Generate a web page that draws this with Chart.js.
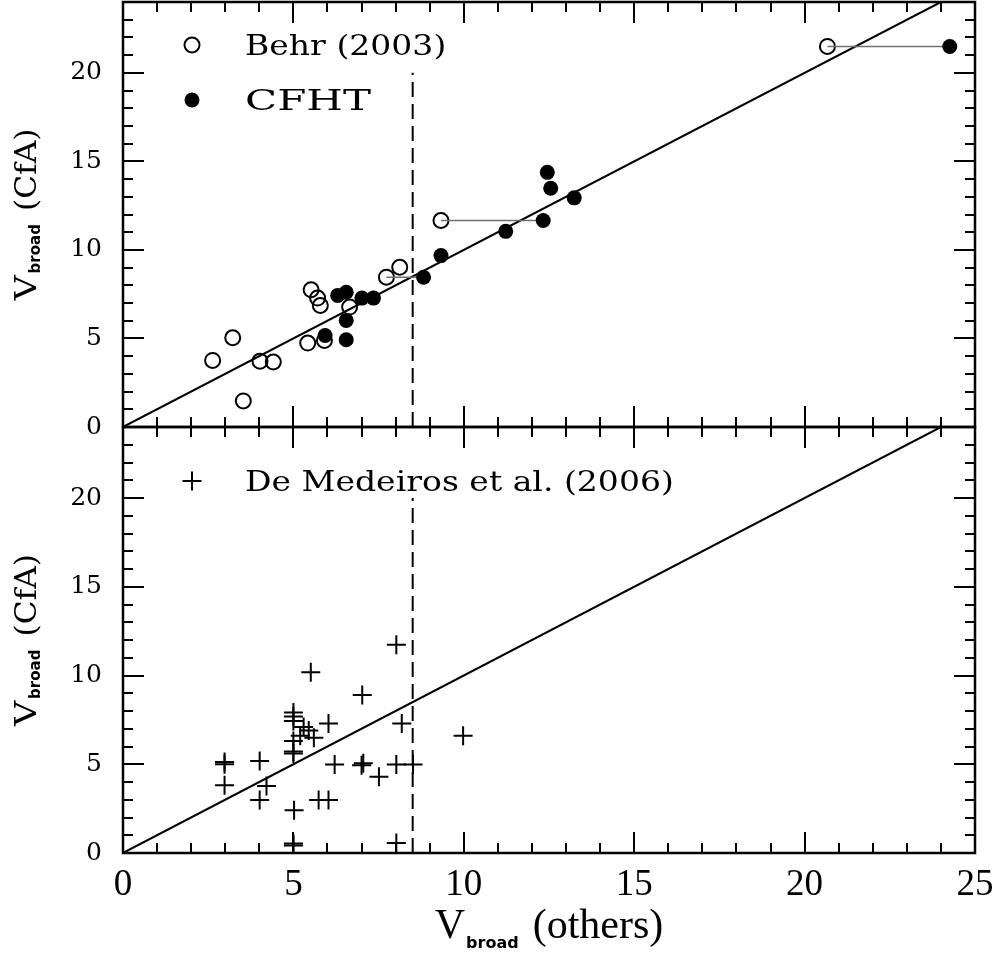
<!DOCTYPE html>
<html>
<head>
<meta charset="utf-8">
<title>Vbroad comparison</title>
<script src="https://cdn.jsdelivr.net/npm/chart.js@4.4.1/dist/chart.umd.min.js"></script>
<style>
  html, body { margin: 0; padding: 0; background: #fff; }
  #plots { position: relative; width: 1000px; height: 954px; }
  #plots canvas { position: absolute; left: 0; top: 0; }
</style>
</head>
<body>
<div id="plots">
  <canvas id="upperPanel" width="1000" height="954"></canvas>
  <canvas id="lowerPanel" width="1000" height="954"></canvas>
</div>
<script>
(function() {
  // axis ranges and labelled ticks
  const xRange = [0, 25];
  const yRange = [0, 24];
  const xTicks = [0, 5, 10, 15, 20, 25];
  const yTicks = [0, 5, 10, 15, 20];

  // upper panel: Behr (2003) and CFHT against CfA
  const behrX = [2.63, 3.22, 3.53, 4.02, 4.41, 5.42, 5.52, 5.71, 5.79, 5.91, 6.65, 7.73, 8.12, 9.33, 20.67];
  const behrY = [3.76, 5.04, 1.47, 3.72, 3.67, 4.74, 7.75, 7.28, 6.86, 4.89, 6.77, 8.46, 9.02, 11.66, 21.49];
  const cfhtX = [5.93, 6.30, 6.55, 6.55, 6.55, 7.01, 7.35, 8.82, 9.33, 11.23, 12.33, 12.45, 12.55, 13.24, 24.26];
  const cfhtY = [5.17, 7.43, 7.61, 6.02, 4.93, 7.28, 7.28, 8.46, 9.68, 11.05, 11.66, 14.38, 13.48, 12.94, 21.49];

  // stars measured by both: Behr value -> CFHT value
  const pairFromX = [7.73, 9.33, 20.67];
  const pairToX = [8.82, 12.33, 24.26];
  const pairY = [8.46, 11.66, 21.49];

  // lower panel: De Medeiros et al. (2006) against CfA
  const medX = [2.98, 2.98, 2.98, 4.01, 4.21, 4.01, 5.02, 5.00, 5.00, 5.00, 5.00, 5.00, 5.00, 5.00, 5.00,
                5.30, 5.45, 5.60, 5.20, 5.51, 6.03, 5.74, 6.03, 7.02, 7.00, 7.05, 7.51, 8.02, 8.18,
                8.02, 8.51, 8.02, 9.98, 6.21];
  const medY = [5.00, 5.12, 3.81, 5.18, 3.77, 2.98, 2.41, 0.42, 0.54, 7.92, 7.69, 7.44, 6.31, 5.60, 5.72,
                7.10, 6.90, 6.50, 6.60, 10.18, 7.30, 2.98, 2.98, 8.90, 4.95, 5.05, 4.30, 11.73, 7.30,
                4.99, 4.99, 0.57, 6.60, 4.99];

  // one-to-one line and the 8.5 km/s cut
  const unityX = [0, 24];
  const cutX = 8.5;
  const cutY = [0, 20];

  const PLOT_LEFT = 123, PLOT_RIGHT = 975;
  const TOP = 2, MID = 427, BOTTOM = 853, HEIGHT = 954;

  const pts = (xs, ys) => xs.map((x, i) => ({ x: x, y: ys[i] }));

  function unityLine() {
    return {
      data: pts(unityX, unityX), showLine: true, borderColor: '#000', borderWidth: 2,
      pointRadius: 0, order: 5
    };
  }
  function cutLine() {
    return {
      data: cutY.map(y => ({ x: cutX, y: y })), showLine: true, borderColor: '#000', borderWidth: 2,
      borderDash: [15, 7], pointRadius: 0, order: 6
    };
  }

  function fixedTicks(values) {
    return scale => { scale.ticks = values.map(v => ({ value: v })); };
  }
  function noPad(scale) {
    scale.paddingTop = 0; scale.paddingBottom = 0;
    scale.paddingLeft = 0; scale.paddingRight = 0;
  }

  function yScale() {
    return {
      min: yRange[0], max: yRange[1],
      afterBuildTicks: fixedTicks(yTicks),
      afterFit: s => { s.width = PLOT_LEFT; noPad(s); },
      grid: { display: false, drawTicks: false },
      border: { display: false },
      ticks: { color: '#000', padding: 21, font: { family: 'DejaVu Serif', size: 25 } }
    };
  }

  // box with inward ticks on all four sides
  const framePlugin = {
    id: 'frame',
    afterDraw(chart) {
      const { ctx, chartArea: a, scales: { x, y } } = chart;
      ctx.save();
      ctx.strokeStyle = '#000';
      ctx.lineWidth = 2;
      ctx.beginPath();
      for (let v = xRange[0] + 1; v < xRange[1]; v++) {
        const px = Math.round(x.getPixelForValue(v));
        const len = v % 5 === 0 ? 21 : 10;
        ctx.moveTo(px, a.bottom); ctx.lineTo(px, a.bottom - len);
        ctx.moveTo(px, a.top); ctx.lineTo(px, a.top + len);
      }
      for (let v = yRange[0] + 1; v < yRange[1]; v++) {
        const py = Math.round(y.getPixelForValue(v));
        const len = v % 5 === 0 ? 21 : 10;
        ctx.moveTo(a.left, py); ctx.lineTo(a.left + len, py);
        ctx.moveTo(a.right, py); ctx.lineTo(a.right - len, py);
      }
      ctx.stroke();
      ctx.lineWidth = 2.5;
      ctx.strokeRect(a.left, a.top, a.right - a.left, a.bottom - a.top);
      ctx.restore();
    }
  };

  // text made of pieces (V + subscript + rest), centred on (cx, cy)
  function drawRich(ctx, parts, cx, cy, angle) {
    ctx.save();
    ctx.translate(cx, cy);
    ctx.rotate(angle);
    ctx.fillStyle = '#000';
    ctx.textAlign = 'left';
    ctx.textBaseline = 'alphabetic';
    let total = 0;
    parts.forEach(p => {
      ctx.font = p.font;
      p.w = ctx.measureText(p.text).width * (p.sx || 1) + (p.gap || 0);
      total += p.w;
    });
    let pos = -total / 2;
    parts.forEach(p => {
      ctx.font = p.font;
      ctx.save();
      ctx.translate(pos, p.dy || 0);
      ctx.scale(p.sx || 1, 1);
      ctx.fillText(p.text, 0, 0);
      ctx.restore();
      pos += p.w;
    });
    ctx.restore();
  }

  function yTitle(chart) {
    const a = chart.chartArea;
    drawRich(chart.ctx, [
      { text: 'V', font: '29px "DejaVu Serif"', sx: 1.2, gap: 2 },
      { text: 'broad', font: 'bold 15px "DejaVu Sans"', dy: 4, gap: 13 },
      { text: '(CfA)', font: '29px "DejaVu Serif"', sx: 1.08 }
    ], 36, (a.top + a.bottom) / 2, -Math.PI / 2);
  }

  function legendEntry(ctx, style, fill, mx, text, tx, baseline, stretch) {
    ctx.save();
    ctx.strokeStyle = '#000';
    ctx.fillStyle = fill;
    ctx.lineWidth = 2;
    Chart.helpers.drawPoint(ctx, style, mx, baseline - 10);
    ctx.fillStyle = '#000';
    ctx.font = '28px "DejaVu Serif"';
    ctx.textBaseline = 'alphabetic';
    ctx.translate(tx, baseline);
    ctx.scale(stretch || 1.18, 1);
    ctx.fillText(text, 0, 0);
    ctx.restore();
  }

  const upperDecor = {
    id: 'upperDecor',
    afterDraw(chart) {
      const ctx = chart.ctx, a = chart.chartArea;
      yTitle(chart);
      legendEntry(ctx, { pointStyle: 'circle', radius: 7.5, borderWidth: 2 }, 'rgba(0,0,0,0)',
        a.left + 69, 'Behr (2003)', a.left + 122, a.top + 53);
      legendEntry(ctx, { pointStyle: 'circle', radius: 7.5, borderWidth: 0 }, '#000',
        a.left + 69, 'CFHT', a.left + 122, a.top + 108, 1.5);
    }
  };

  const lowerDecor = {
    id: 'lowerDecor',
    afterDraw(chart) {
      const ctx = chart.ctx, a = chart.chartArea;
      yTitle(chart);
      drawRich(ctx, [
        { text: 'V', font: '42px "Liberation Serif"', gap: 1 },
        { text: 'broad', font: 'bold 16px "DejaVu Sans"', dy: 10, gap: 14 },
        { text: '(others)', font: '42px "Liberation Serif"' }
      ], (a.left + a.right) / 2, 938, 0);
      legendEntry(ctx, { pointStyle: 'cross', radius: 9.5, borderWidth: 2 }, 'rgba(0,0,0,0)',
        a.left + 69, 'De Medeiros et al. (2006)', a.left + 122, a.top + 64);
    }
  };

  const common = {
    responsive: false,
    animation: false,
    events: [],
    plugins: { legend: { display: false }, tooltip: { enabled: false } }
  };

  new Chart(document.getElementById('upperPanel'), {
    type: 'scatter',
    data: {
      datasets: [
        {
          label: 'CFHT', data: pts(cfhtX, cfhtY), pointRadius: 7.5, pointBorderWidth: 0,
          pointBackgroundColor: '#000', order: 1
        },
        ...pairY.map((y, i) => ({
          data: [{ x: pairFromX[i], y: y }, { x: pairToX[i], y: y }], showLine: true,
          borderColor: '#707070', borderWidth: 1.5, pointRadius: 0, order: 2
        })),
        {
          label: 'Behr (2003)', data: pts(behrX, behrY), pointRadius: 7.5, pointBorderWidth: 2,
          pointBorderColor: '#000', pointBackgroundColor: 'rgba(0,0,0,0)', order: 3
        },
        unityLine(),
        cutLine()
      ]
    },
    options: Object.assign({}, common, {
      layout: { autoPadding: false, padding: { top: TOP, right: 1000 - PLOT_RIGHT, bottom: HEIGHT - MID, left: 0 } },
      scales: {
        x: { type: 'linear', min: xRange[0], max: xRange[1], display: false },
        y: yScale()
      }
    }),
    plugins: [framePlugin, upperDecor]
  });

  new Chart(document.getElementById('lowerPanel'), {
    type: 'scatter',
    data: {
      datasets: [
        {
          label: 'De Medeiros et al. (2006)', data: pts(medX, medY), pointStyle: 'cross',
          pointRadius: 9.5, pointBorderWidth: 2, pointBorderColor: '#000', order: 1
        },
        unityLine(),
        cutLine()
      ]
    },
    options: Object.assign({}, common, {
      layout: { autoPadding: false, padding: { top: MID, right: 1000 - PLOT_RIGHT, bottom: 0, left: 0 } },
      scales: {
        x: {
          type: 'linear', min: xRange[0], max: xRange[1],
          afterBuildTicks: fixedTicks(xTicks),
          afterFit: s => { s.height = HEIGHT - BOTTOM; noPad(s); },
          grid: { display: false, drawTicks: false },
          border: { display: false },
          ticks: { color: '#000', padding: 10, maxRotation: 0, font: { family: 'Liberation Serif', size: 37 } }
        },
        y: yScale()
      }
    }),
    plugins: [framePlugin, lowerDecor]
  });
})();
</script>
</body>
</html>
